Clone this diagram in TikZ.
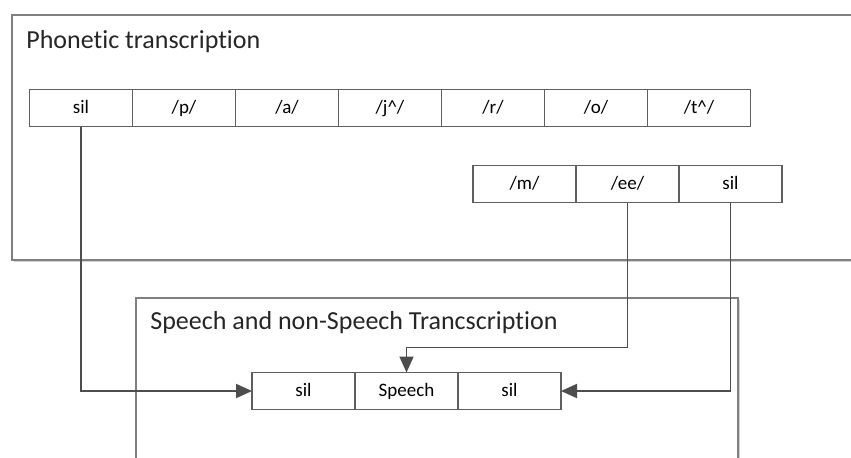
\documentclass[tikz,border=0pt]{standalone}
\usepackage{fontspec}
\setmainfont{Carlito}[Ligatures={NoCommon}]
\usetikzlibrary{positioning, arrows.meta, shadows}
\definecolor{framegray}{HTML}{808080}
\definecolor{linegray}{HTML}{4D4D4D}

\begin{document}
\begin{tikzpicture}[
    x=0.5pt, y=-0.5pt,
    frame/.style={
        rectangle, draw=framegray, line width=0.8pt, fill=white,
        drop shadow={shadow xshift=1pt, shadow yshift=-1pt, fill=black!30, opacity=0.6},
        anchor=north west, inner sep=0pt
    },
    title/.style={anchor=base west, inner sep=0pt, font=\fontsize{13}{15}\selectfont, text=black!85},
    cell/.style={
        rectangle, draw=linegray!90, line width=0.75pt, fill=white,
        minimum width=51.5pt, minimum height=18.5pt,
        inner sep=0pt, outer sep=0pt, text height=7pt, text depth=2pt,
        font=\fontsize{9.5}{11}\selectfont
    },
    link/.style={draw=linegray, line width=0.9pt, -{Triangle[length=8pt, width=7pt]}}
]
\useasboundingbox (0,0) rectangle (851,457);
\clip (0,0) rectangle (851,457);

\node[frame, minimum width=429.5pt, minimum height=122.5pt] (phon) at (11,14) {};
\node[title] (phontitle) at (26,48) {Phonetic transcription};

\node[cell] (t1) at (81,108) {sil};
\node[cell, right=0pt of t1] (t2) {/p/};
\node[cell, right=0pt of t2] (t3) {/a/};
\node[cell, right=0pt of t3] (t4) {/j\textasciicircum/};
\node[cell, right=0pt of t4] (t5) {/r/};
\node[cell, right=0pt of t5] (t6) {/o/};
\node[cell, right=0pt of t6] (t7) {/t\textasciicircum/};

\node[cell] (m1) at (524.5,184) {/m/};
\node[cell, right=0pt of m1] (m2) {/ee/};
\node[cell, right=0pt of m2] (m3) {sil};

\node[frame, minimum width=301pt, minimum height=86.5pt] (speech) at (135,297) {};
\node[title] (speechtitle) at (150,329) {Speech and non-Speech Trancscription};

\node[cell] (b1) at (303.5,391) {sil};
\node[cell, right=0pt of b1] (b2) {Speech};
\node[cell, right=0pt of b2] (b3) {sil};

\draw[link] (t1.south) |- (b1.west);
\draw[link] (m2.south) |- ([yshift=12.5pt]b2.north) -- (b2.north);
\draw[link] (m3.south) |- (b3.east);

\end{tikzpicture}
\end{document}
